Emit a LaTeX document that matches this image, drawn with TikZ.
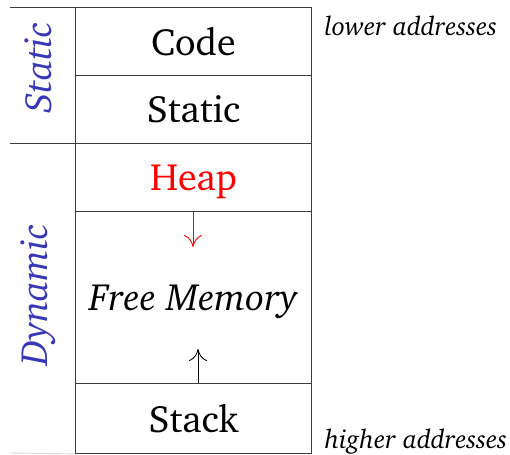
\documentclass[tikz,border=0pt]{standalone}
\usepackage[T1]{fontenc}
\usepackage{charter}
\usetikzlibrary{arrows.meta}
\definecolor{lblblue}{RGB}{55,55,185}
\definecolor{rulec}{RGB}{60,60,60}
\tikzset{
  seg/.style={draw=rulec, line width=0.9pt, minimum width=236pt, inner sep=0pt, text depth=0pt, anchor=north west, font=\fontsize{38}{42}\selectfont},
  side/.style={text=lblblue, rotate=90, font=\fontsize{38}{42}\selectfont\itshape},
  addr/.style={anchor=west, font=\fontsize{26.5}{30}\selectfont\itshape},
  rulel/.style={draw=rulec, line width=0.9pt},
  growarrow/.style={-{To[length=12pt,width=18pt,line width=0.9pt]}, line width=0.9pt}
}
\begin{document}
\begin{tikzpicture}[x=1pt,y=-1pt]
\useasboundingbox (0,0) rectangle (510,454);
\node[seg, minimum height=68pt] (code) at (75,7) {Code};
\node[seg, minimum height=68pt] (static) at (75,75) {Static};
\node[seg, minimum height=68pt, text=red] (heap) at (75,143) {Heap};
\node[seg, minimum height=172pt, font=\fontsize{38}{42}\selectfont\itshape] (free) at (75,211) {Free Memory};
\node[seg, minimum height=70pt] (stack) at (75,383) {Stack};
\coordinate (t0) at (10,7);
\coordinate (t1) at (10,143);
\coordinate (t2) at (10,453);
\draw[rulel] (t0) -- (code.north west);
\draw[rulel] (t1) -- (heap.north west);
\draw[rulel, draw=black!15] (t2) -- (stack.south west);
\coordinate (hend) at (193,247);
\coordinate (sstart) at (198,383);
\coordinate (send) at (198,349);
\coordinate (hstart) at (193,211);
\draw[growarrow, red] (hstart) -- (hend);
\draw[growarrow] (sstart) -- (send);
\node[side] (ls) at (38,68) {Static};
\node[side] (ld) at (38,295) {Dynamic};
\node[addr] (lo) at (321,26) {lower addresses};
\node[addr] (hi) at (321,442) {higher addresses};
\end{tikzpicture}
\end{document}
